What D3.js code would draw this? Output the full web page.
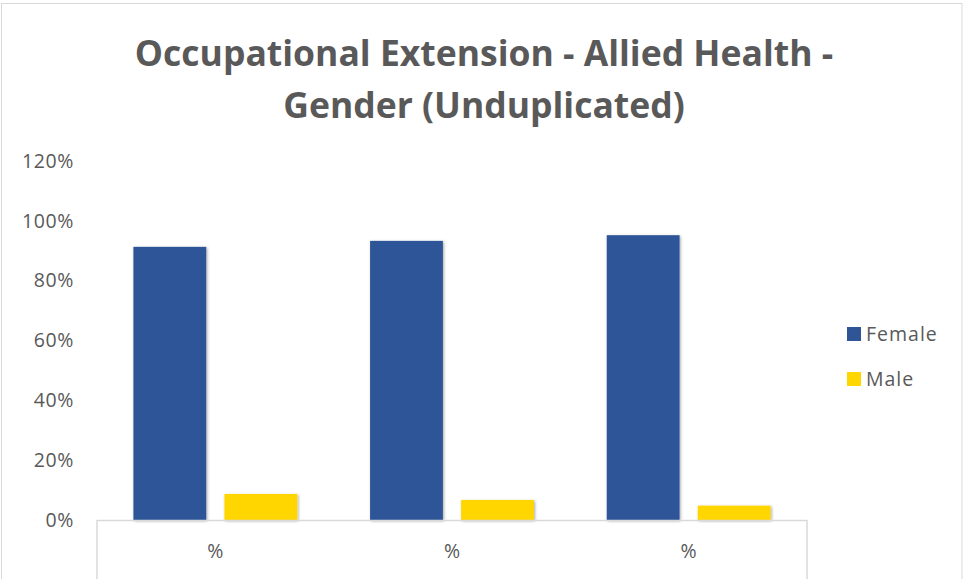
<!DOCTYPE html>
<html><head><meta charset="utf-8">
<script src="https://cdn.jsdelivr.net/npm/d3@7"></script>
<style>
html,body{margin:0;padding:0;background:#fff;}
svg{display:block;font-family:"Open Sans",sans-serif;}
</style></head>
<body>
<script>
const titleLines = ["Occupational Extension - Allied Health -", "Gender (Unduplicated)"];
const categories = ["%", "%", "%"];
const seriesNames = ["Female", "Male"];
const femaleValues = [91.3, 93.3, 95.2];
const maleValues = [8.7, 6.7, 4.8];
const yTicks = [0, 20, 40, 60, 80, 100, 120];
const colors = ["#2F5597", "#FFD600"];

const W = 964, H = 579;
const svg = d3.select("body").append("svg").attr("width", W).attr("height", H);

const defs = svg.append("defs");
const f = defs.append("filter").attr("id","shadow").attr("x","-20%").attr("y","-20%").attr("width","140%").attr("height","140%");
f.append("feDropShadow").attr("dx",1).attr("dy",1).attr("stdDeviation",1.5).attr("flood-color","#000").attr("flood-opacity",0.35);

// chart border
svg.append("rect").attr("x",1.5).attr("y",3.5).attr("width",960.5).attr("height",H).attr("fill","#fff").attr("stroke","#d9d9d9").attr("stroke-width",1);

// title
svg.append("g").selectAll("text").data(titleLines).join("text")
  .attr("x", 484).attr("y", (d,i)=> 66 + i*52)
  .attr("text-anchor","middle").attr("font-weight","bold").attr("font-size",35.5)
  .attr("fill","#595959").text(d=>d);

const plot = {left:97, right:807, top:161, bottom:520};
const x0 = d3.scaleBand().domain(d3.range(categories.length)).range([plot.left, plot.right]).paddingInner(0).paddingOuter(0);
const x1 = d3.scaleBand().domain(seriesNames).range([0, x0.bandwidth()]).paddingInner(0.2).paddingOuter(0.4);
const y = d3.scaleLinear().domain([0,120]).range([plot.bottom, plot.top]);

// y axis labels
const yAxis = d3.axisLeft(y).tickValues(yTicks).tickFormat(d=>d+"%").tickSize(0).tickPadding(0);
const ya = svg.append("g").attr("transform",`translate(74,0)`).call(yAxis);
ya.select(".domain").remove();
ya.selectAll("text").attr("font-size",19.5).attr("letter-spacing",0.6).attr("fill","#595959").attr("font-family","Open Sans, sans-serif");

// bars
const data = categories.map((c,i)=>({i, vals:[femaleValues[i], maleValues[i]]}));
const groups = svg.append("g").selectAll("g").data(data).join("g")
  .attr("transform", d=>`translate(${x0(d.i)},0)`);
groups.selectAll("rect").data(d=>d.vals.map((v,k)=>({name:seriesNames[k], v, k})))
  .join("rect")
  .attr("x", d=>x1(d.name)).attr("width", x1.bandwidth())
  .attr("y", d=>y(d.v)).attr("height", d=>y(0)-y(d.v))
  .attr("fill", d=>colors[d.k]).attr("filter","url(#shadow)");

// x axis
const xAxis = d3.axisBottom(x0).tickFormat(i=>categories[i]).tickSize(0).tickPadding(24);
const xa = svg.append("g").attr("transform",`translate(0,${plot.bottom})`).call(xAxis);
xa.select(".domain").remove();
xa.selectAll("text").attr("font-size",19.5).attr("fill","#595959").attr("font-family","Open Sans, sans-serif");
svg.append("line").attr("x1",plot.left).attr("x2",plot.right).attr("y1",plot.bottom+0.5).attr("y2",plot.bottom+0.5).attr("stroke","#d9d9d9").attr("stroke-width",1.5);
[plot.left, plot.right].forEach(xx=>{
  svg.append("line").attr("x1",xx).attr("x2",xx).attr("y1",plot.bottom).attr("y2",H).attr("stroke","#d9d9d9").attr("stroke-width",1.5);
});

// legend
const lg = svg.append("g").selectAll("g").data(seriesNames).join("g")
  .attr("transform",(d,i)=>`translate(847,${334 + i*45})`);
lg.append("rect").attr("x",0).attr("y",-7).attr("width",14).attr("height",14).attr("fill",(d,i)=>colors[i]);
lg.append("text").attr("x",19).attr("y",0).attr("dy","0.35em").attr("font-size",19.5).attr("letter-spacing",1).attr("fill","#595959").text(d=>d);
</script>
</body></html>
